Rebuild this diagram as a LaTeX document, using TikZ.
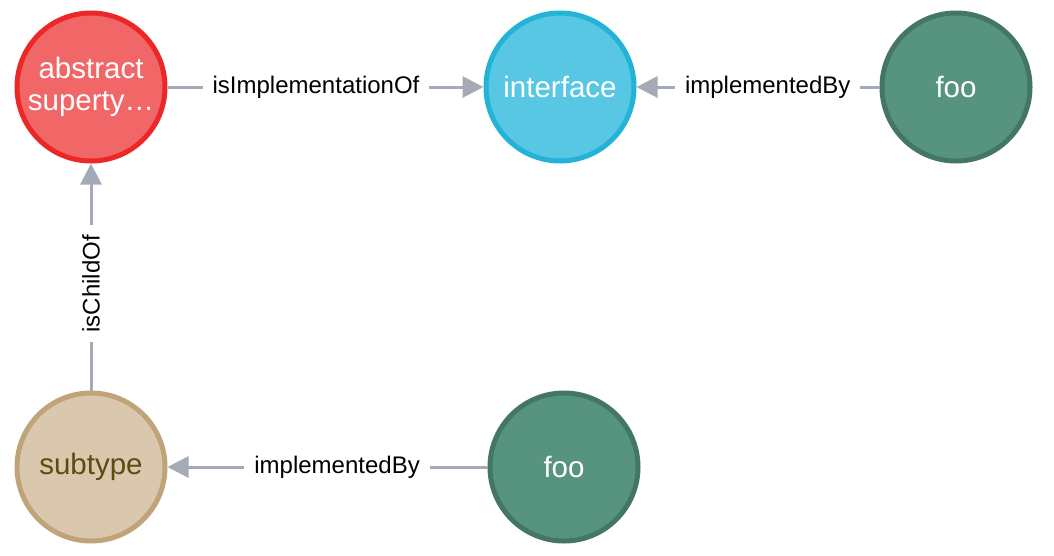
\documentclass[tikz,border=0pt]{standalone}
\usepackage{fontspec}
\setmainfont{Liberation Sans}
\usepackage{tikz}
\usetikzlibrary{shapes}
\usetikzlibrary{arrows.meta}

\definecolor{absfill}{HTML}{F16667}
\definecolor{absline}{HTML}{EB2728}
\definecolor{ifcfill}{HTML}{57C7E3}
\definecolor{ifcline}{HTML}{23B3D7}
\definecolor{foofill}{HTML}{569480}
\definecolor{fooline}{HTML}{447666}
\definecolor{subfill}{HTML}{D9C8AE}
\definecolor{subline}{HTML}{C0A378}
\definecolor{subtext}{HTML}{604A0E}
\definecolor{relgray}{HTML}{A5ABB6}

\tikzset{
	gnode/.style={circle, minimum size=148pt, line width=5pt, inner sep=0pt,
		align=center, text=white, font=\fontsize{29.5}{32}\selectfont},
	absnode/.style={gnode, fill=absfill, draw=absline},
	ifcnode/.style={gnode, fill=ifcfill, draw=ifcline},
	foonode/.style={gnode, fill=foofill, draw=fooline},
	subnode/.style={gnode, fill=subfill, draw=subline, text=subtext},
	rel/.style={draw=relgray, line width=3pt, -{Triangle[length=21pt, width=21pt]}},
	lbl/.style={fill=white, text=black, inner xsep=10pt, inner ysep=2pt,
		font=\fontsize{24}{28}\selectfont}
}

\begin{document}
\begin{tikzpicture}[x=1pt, y=-1pt]
		\useasboundingbox (0,0) rectangle (1054,555);
		\node[absnode] (abstract) at (91,87) {abstract\\superty…};
		\node[ifcnode] (interface) at (560,87) {interface};
		\node[foonode] (footop) at (956,87) {foo};
		\node[subnode] (subtype) at (91,467) {subtype};
		\node[foonode] (foobot) at (564,467) {foo};
		\draw[rel] (abstract) -- node[lbl, pos=0.47] {isImplementationOf} (interface);
		\draw[rel] (footop) -- node[lbl, pos=0.46] {implementedBy} (interface);
		\draw[rel] (foobot) -- node[lbl, pos=0.47] {implementedBy} (subtype);
		\draw[rel] (subtype) -- node[lbl, rotate=90, pos=0.47] {isChildOf} (abstract);
	\end{tikzpicture}
\end{document}
